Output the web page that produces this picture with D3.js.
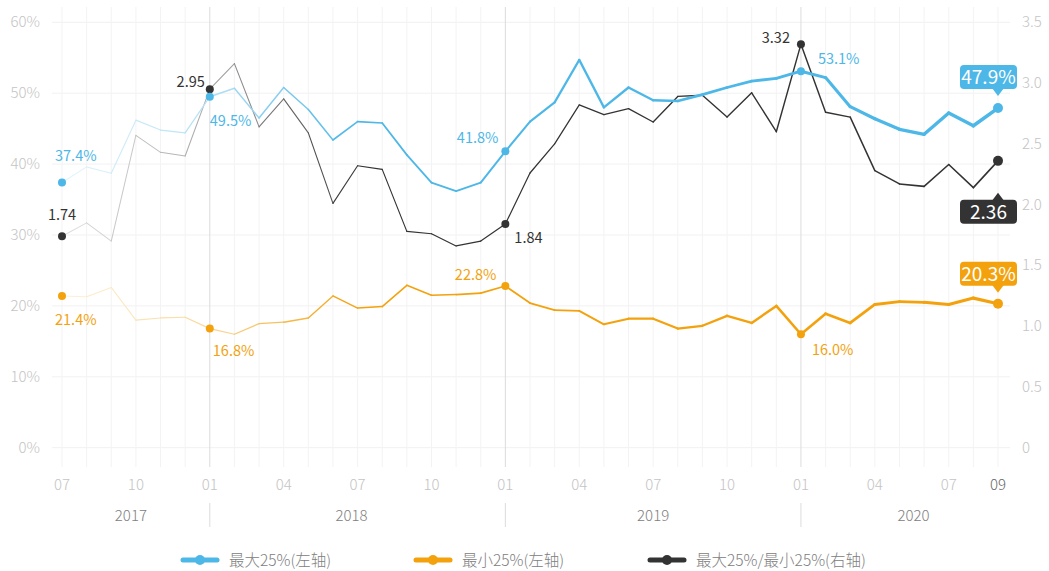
<!DOCTYPE html>
<html>
<head>
<meta charset="utf-8">
<script src="https://cdn.jsdelivr.net/npm/d3@7"></script>
<style>
  body { margin: 0; background: #fff; }
  svg text { font-family: "Noto Sans CJK SC", "Noto Sans", sans-serif; }
  .light { font-weight: 300; }
</style>
</head>
<body>
<svg id="chart" width="1049" height="571"></svg>
<script>
// monthly data, 2017-07 .. 2020-09
const months = [
  "2017-07","2017-08","2017-09","2017-10","2017-11","2017-12",
  "2018-01","2018-02","2018-03","2018-04","2018-05","2018-06","2018-07","2018-08","2018-09","2018-10","2018-11","2018-12",
  "2019-01","2019-02","2019-03","2019-04","2019-05","2019-06","2019-07","2019-08","2019-09","2019-10","2019-11","2019-12",
  "2020-01","2020-02","2020-03","2020-04","2020-05","2020-06","2020-07","2020-08","2020-09"
];
const maxTop25 = [
  37.4, 39.6, 38.7, 46.2, 44.8, 44.4,
  49.5, 50.7, 46.5, 50.8, 47.7, 43.4, 46.0, 45.8, 41.3, 37.4, 36.2, 37.4,
  41.8, 46.0, 48.7, 54.7, 48.0, 50.8, 49.0, 48.9, 49.8, 50.8, 51.7, 52.1,
  53.1, 52.2, 48.1, 46.4, 44.9, 44.2, 47.2, 45.4, 47.9
];
const minBottom25 = [
  21.4, 21.3, 22.6, 18.0, 18.3, 18.4,
  16.8, 16.0, 17.5, 17.7, 18.3, 21.4, 19.7, 19.9, 22.9, 21.5, 21.6, 21.8,
  22.8, 20.4, 19.4, 19.3, 17.4, 18.2, 18.2, 16.8, 17.2, 18.6, 17.6, 20.0,
  16.0, 18.9, 17.6, 20.2, 20.6, 20.5, 20.2, 21.1, 20.3
];
const ratio = [
  1.74, 1.85, 1.70, 2.57, 2.43, 2.40,
  2.95, 3.16, 2.64, 2.87, 2.59, 2.01, 2.32, 2.29, 1.78, 1.76, 1.66, 1.70,
  1.84, 2.26, 2.50, 2.82, 2.74, 2.79, 2.68, 2.89, 2.90, 2.72, 2.92, 2.60,
  3.32, 2.76, 2.72, 2.28, 2.17, 2.15, 2.33, 2.14, 2.36
];
const leftTicks = [0, 10, 20, 30, 40, 50, 60];
const rightTicks = [0, 0.5, 1, 1.5, 2, 2.5, 3, 3.5];
const monthTicks = ["07", "10", "01", "04"];
const years = ["2017", "2018", "2019", "2020"];
const seriesNames = ["最大25%(左轴)", "最小25%(左轴)", "最大25%/最小25%(右轴)"];
const keyIndex = [0, 6, 18, 30, 38];

const svg = d3.select("#chart");

const x = d3.scalePoint().domain(months).range([62, 998]);
const yL = d3.scaleLinear().domain([0, 60]).range([447.7, 22.3]);
const yR = d3.scaleLinear().domain([0, 3.5]).range([447.7, 22.3]);
const plotLeft = 52, plotRight = 1010, gridTop = 7, gridBottom = 467;

// grid
const grid = svg.append("g");
grid.selectAll("line.h")
  .data(leftTicks)
  .join("line")
  .attr("x1", plotLeft).attr("x2", plotRight)
  .attr("y1", d => yL(d)).attr("y2", d => yL(d))
  .attr("stroke", "#f1f1f1");
grid.selectAll("line.v")
  .data(months)
  .join("line")
  .attr("x1", d => x(d)).attr("x2", d => x(d))
  .attr("y1", gridTop).attr("y2", gridBottom)
  .attr("stroke", d => d.endsWith("-01") ? "#dcdcdc" : "#f3f3f3");

// axis labels
svg.append("g").selectAll("text")
  .data(leftTicks)
  .join("text")
  .attr("class", "light")
  .attr("x", 40).attr("y", d => yL(d) + 5)
  .attr("text-anchor", "end")
  .attr("font-size", 15).attr("fill", "#c4c4c4")
  .text(d => d + "%");
svg.append("g").selectAll("text")
  .data(rightTicks)
  .join("text")
  .attr("class", "light")
  .attr("x", 1022).attr("y", d => yR(d) + 5)
  .attr("font-size", 15).attr("fill", "#c4c4c4")
  .text(d => d === 0 ? "0" : d3.format(".1f")(d));

const last = months[months.length - 1];
svg.append("g").selectAll("text")
  .data(months.filter(m => monthTicks.includes(m.slice(5)) || m === last))
  .join("text")
  .attr("class", "light")
  .attr("x", d => x(d)).attr("y", 490)
  .attr("text-anchor", "middle")
  .attr("font-size", 15)
  .attr("fill", d => d === last ? "#666" : "#c4c4c4")
  .text(d => d.slice(5));

// year bands
const jan = months.filter(m => m.endsWith("-01"));
svg.append("g").selectAll("line")
  .data(jan)
  .join("line")
  .attr("x1", d => x(d)).attr("x2", d => x(d))
  .attr("y1", 503).attr("y2", 527)
  .attr("stroke", "#dcdcdc");
const bounds = [plotLeft, ...jan.map(d => x(d)), plotRight + 16];
svg.append("g").selectAll("text")
  .data(years)
  .join("text")
  .attr("class", "light")
  .attr("x", (d, i) => (bounds[i] + bounds[i + 1]) / 2 - (i === 1 ? 6 : 0))
  .attr("y", 521)
  .attr("text-anchor", "middle")
  .attr("font-size", 15).attr("fill", "#808080")
  .text(d => d);

// series
const series = [
  { values: maxTop25, y: yL, color: "#4db7e7", width: [1, 2, 3.6], fmt: v => v.toFixed(1) + "%",
    labels: [[-7, -22, "start"], [0, 29, "start"], [-7, -8, "end"], [17, -7, "start"]],
    box: { dy: -19, up: true } },
  { values: minBottom25, y: yL, color: "#f3a20e", width: [1, 1.7, 3.2], fmt: v => v.toFixed(1) + "%",
    labels: [[-7, 29, "start"], [3, 27, "start"], [-9, -6, "end"], [11, 21, "start"]],
    box: { dy: -18, up: true } },
  { values: ratio, y: yR, color: "#333333", width: [1, 1.2, 1.6], fmt: v => v.toFixed(2),
    labels: [[0, -16, "middle"], [-5, -2, "end"], [9, 19, "start"], [-11, -1, "end"]],
    box: { dy: 32, up: false } }
];
const fade = d3.scaleLinear().domain([0, 6, 12]).range([0.15, 0.42, 1]).clamp(true);
const n = months.length;
const line = d3.line();

// ratio drawn first, then blue and orange on top
[series[2], series[0], series[1]].forEach(s => {
  const widthScale = d3.scaleLinear().domain([0, 18, n - 1]).range(s.width);
  const pts = s.values.map((v, i) => [x(months[i]), s.y(v)]);
  const g = svg.append("g");
  g.selectAll("path")
    .data(d3.range(n - 1))
    .join("path")
    .attr("d", i => line([pts[i], pts[i + 1]]))
    .attr("fill", "none")
    .attr("stroke", i => d3.interpolateRgb("#ffffff", s.color)(fade(i + 0.5)))
    .attr("stroke-width", i => widthScale(i + 0.5))
    .attr("stroke-linecap", "round");
  g.selectAll("circle")
    .data(keyIndex)
    .join("circle")
    .attr("cx", i => pts[i][0]).attr("cy", i => pts[i][1])
    .attr("r", i => i === n - 1 ? 5 : 4)
    .attr("fill", s.color);
  g.selectAll("text")
    .data(keyIndex.slice(0, 4))
    .join("text")
    .attr("x", (i, k) => pts[i][0] + s.labels[k][0])
    .attr("y", (i, k) => pts[i][1] + s.labels[k][1])
    .attr("text-anchor", (i, k) => s.labels[k][2])
    .attr("font-size", 14.5)
    .attr("fill", s.color)
    .text(i => s.fmt(s.values[i]));
  s.pts = pts;
});

// end callouts
series.forEach(s => {
  const [px, py] = s.pts[n - 1];
  const bw = 57, bh = 24, bx = px - 38;
  const g = svg.append("g");
  let by, tri;
  if (s.box.up) {
    by = py + s.box.dy - bh;
    tri = [[px - 6, by + bh - 1], [px + 6, by + bh - 1], [px, by + bh + 7]];
  } else {
    by = py + s.box.dy + 7;
    tri = [[px - 6, by + 1], [px + 6, by + 1], [px, by - 7]];
  }
  g.append("rect")
    .attr("x", bx).attr("y", by).attr("width", bw).attr("height", bh)
    .attr("rx", 4).attr("fill", s.color);
  g.append("path")
    .attr("d", d3.line()(tri) + "Z")
    .attr("fill", s.color);
  g.append("text")
    .attr("x", bx + bw / 2).attr("y", by + bh / 2 + 7)
    .attr("text-anchor", "middle")
    .attr("font-size", 19).attr("fill", "#fff")
    .text(s.fmt(s.values[n - 1]));
});

// legend
const legendX = [183, 416, 650];
const legend = svg.append("g").selectAll("g")
  .data(series)
  .join("g")
  .attr("transform", (d, i) => `translate(${legendX[i]},560)`);
legend.append("line")
  .attr("x1", 0).attr("x2", 34)
  .attr("stroke", d => d.color).attr("stroke-width", 5).attr("stroke-linecap", "round");
legend.append("circle")
  .attr("cx", 17).attr("r", 5).attr("fill", d => d.color);
legend.append("text")
  .attr("class", "light")
  .attr("x", 46).attr("y", 5.5)
  .attr("font-size", 15.5).attr("fill", "#808080")
  .text((d, i) => seriesNames[i]);
</script>
</body>
</html>
